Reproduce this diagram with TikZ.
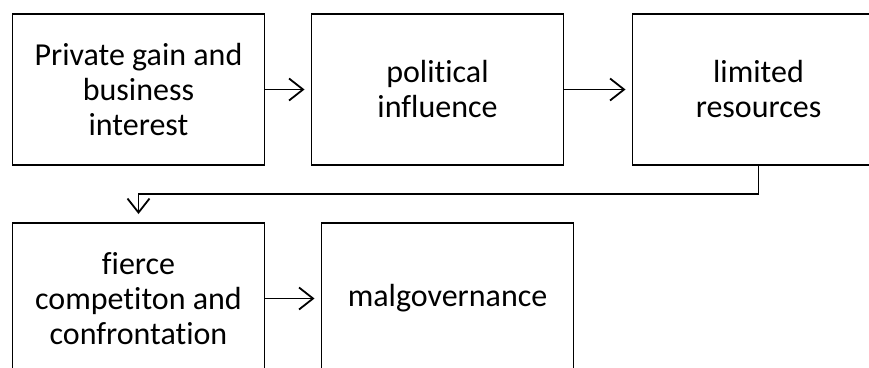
\documentclass[tikz,border=0pt]{standalone}
\usepackage{fontspec}
\setmainfont{Carlito}[Ligatures=NoCommon]
\usetikzlibrary{positioning, arrows.meta}

\begin{document}
\begin{tikzpicture}[
  x=1pt, y=1pt,
  every node/.style={font=\fontsize{32}{35}\selectfont, text=black},
  stage/.style={
    draw=black,
    line width=1.8pt,
    minimum width=252pt,
    minimum height=151pt,
    align=center,
    inner sep=0pt,
    outer sep=0pt,
  },
  link/.style={
    -{Straight Barb[length=14pt, width=22pt, line width=1.8pt]},
    line width=1.8pt,
    shorten >=7pt,
  },
]
  \clip (0,0) rectangle (869,-367);
  \node[stage] (gain) at (138.5,-89.5) {Private gain and\\business\\interest};
  \node[stage, right=47pt of gain] (influence) {political\\influence};
  \node[stage, right=69pt of influence] (resources) {limited\\resources};
  \node[stage, below=58pt of gain] (compete) {fierce\\competiton and\\confrontation};
  \node[stage, right=57pt of compete] (malgov) {malgovernance};

  \coordinate (turn) at ([yshift=-29pt]resources.south);

  \draw[link] (gain) -- (influence);
  \draw[link] (influence) -- (resources);
  \draw[link, shorten >=9pt] (resources.south) -- (turn) -| (compete.north);
  \draw[link] (compete) -- (malgov);
\end{tikzpicture}
\end{document}
